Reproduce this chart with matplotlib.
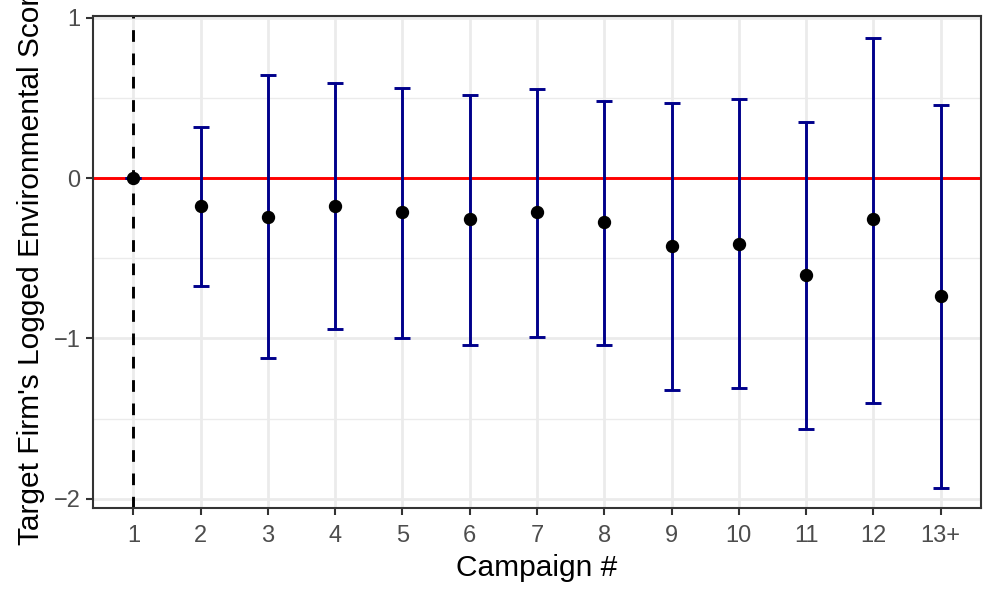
import numpy as np
import matplotlib
matplotlib.use("Agg")
import matplotlib.pyplot as plt

plt.rcParams["font.family"] = ["Liberation Sans", "DejaVu Sans"]

# campaign index, point estimate and 95% interval
campaigns = ["1", "2", "3", "4", "5", "6", "7", "8", "9", "10", "11", "12", "13+"]
estimate = [0.0, -0.175, -0.24, -0.175, -0.21, -0.255, -0.21, -0.275, -0.425, -0.41, -0.605, -0.255, -0.735]
ci_low = [0.0, -0.675, -1.125, -0.94, -1.0, -1.04, -0.99, -1.04, -1.32, -1.31, -1.565, -1.40, -1.93]
ci_high = [0.0, 0.32, 0.64, 0.59, 0.56, 0.52, 0.555, 0.48, 0.47, 0.49, 0.35, 0.875, 0.455]

W, H = 997, 598
fig = plt.figure(figsize=(W / 100, H / 100), dpi=100)
ax = fig.add_axes([93 / W, (H - 508) / H, (981 - 93) / W, (508 - 16) / H])

x = np.arange(1, len(campaigns) + 1)
est = np.array(estimate)
lo = np.array(ci_low)
hi = np.array(ci_high)

# theme_bw-ish grid
ax.set_axisbelow(True)
ax.grid(True, which="major", color="#EBEBEB", linewidth=2.0)
ax.set_yticks([-1.5, -0.5, 0.5], minor=True)
ax.grid(True, which="minor", axis="y", color="#EBEBEB", linewidth=1.0)
ax.tick_params(which="minor", left=False)

ax.axhline(0, color="red", linewidth=2.1, zorder=2)
ax.axvline(1, color="black", linewidth=2.1, linestyle=(0, (4, 4)), zorder=2)

ax.errorbar(x, est, yerr=[est - lo, hi - est], fmt="none", ecolor="#00008B",
            elinewidth=2.1, capsize=6.1, capthick=2.1, zorder=3)
ax.plot(x, est, "o", color="black", markersize=8.6, zorder=4)

ax.set_xlim(0.4, 13.6)
ax.set_ylim(-2.057, 1.01)
ax.set_xticks(x)
ax.set_xticklabels(campaigns)
ax.set_yticks([-2, -1, 0, 1])
ax.set_yticklabels(["\u22122", "\u22121", "0", "1"])

for s in ax.spines.values():
    s.set_color("#333333")
    s.set_linewidth(1.5)
ax.tick_params(which="major", length=5, width=1.5, color="#333333",
               labelsize=17, labelcolor="#4D4D4D", pad=4)
ax.tick_params(axis="x", which="major", pad=7)

# the y title is longer than the panel and gets clipped at the top, as in the original
ax.set_xlabel("Campaign #", fontsize=21.5, labelpad=5.5)
ax.set_ylabel("Target Firm's Logged Environmental Score", fontsize=21.5, labelpad=6)

fig.savefig("out.png", dpi=100)
